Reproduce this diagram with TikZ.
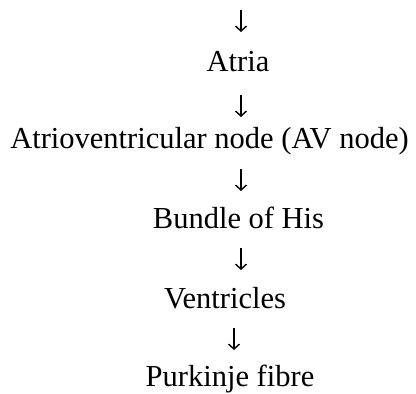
\documentclass[tikz,border=0pt]{standalone}
\usepackage{fontspec}
\setmainfont{Liberation Serif}
\usetikzlibrary{arrows.meta}
\begin{document}
\begin{tikzpicture}[x=1pt,y=-1pt,
  stage/.style={anchor=base,inner sep=0pt,font=\fontsize{30.5}{36}\selectfont},
  flow/.style={line width=1.4pt,-{Straight Barb[length=5pt,width=11pt,line width=1.4pt]}}]
  \useasboundingbox (0,0) rectangle (416,394);
  % conduction pathway, top to bottom
  \node[stage] (atria) at (238,71) {Atria};
  \node[stage] (av) at (209.5,148) {Atrioventricular node (AV node)};
  \node[stage] (his) at (238.5,228) {Bundle of His};
  \node[stage] (vent) at (225,308) {Ventricles};
  \node[stage] (purk) at (230,386) {Purkinje fibre};
  % downward arrows between the stages
  \coordinate (a0t) at (241,10);  \coordinate (a0b) at (241,32);
  \coordinate (a1t) at (241,95);  \coordinate (a1b) at (241,117);
  \coordinate (a2t) at (241,169); \coordinate (a2b) at (241,191);
  \coordinate (a3t) at (241,248); \coordinate (a3b) at (241,270);
  \coordinate (a4t) at (234,328); \coordinate (a4b) at (234,350);
  \draw[flow] (a0t) -- (a0b);
  \draw[flow] (a1t) -- (a1b);
  \draw[flow] (a2t) -- (a2b);
  \draw[flow] (a3t) -- (a3b);
  \draw[flow] (a4t) -- (a4b);
\end{tikzpicture}
\end{document}
